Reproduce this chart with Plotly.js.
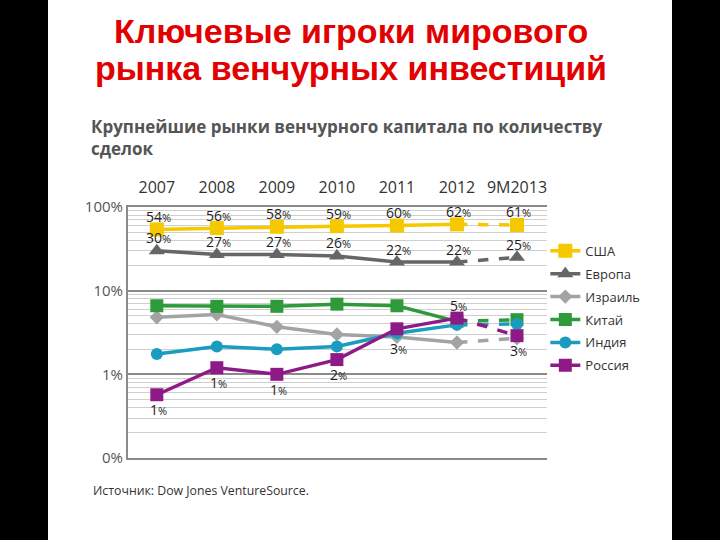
<!DOCTYPE html>
<html>
<head>
<meta charset="utf-8">
<script src="https://cdn.plot.ly/plotly-3.0.1.min.js"></script>
<style>
  html, body { margin: 0; padding: 0; background: #000; width: 720px; height: 540px; overflow: hidden; }
  #chart { position: absolute; left: 48px; top: 0; width: 624px; height: 540px; background: #fff; }
</style>
</head>
<body>
<div id="chart"></div>
<script>
// ---- data ----
const years = ['2007', '2008', '2009', '2010', '2011', '2012', '9M2013'];
const seriesNames = ['США', 'Европа', 'Израиль', 'Китай', 'Индия', 'Россия'];
const usa    = [54, 56, 58, 59, 60, 62, 61];
const europe = [30, 27, 27, 26, 22, 22, 25];
const israel = [4.8, 5.2, 3.7, 3.0, 2.8, 2.4, 2.7];
const china  = [6.6, 6.5, 6.5, 6.9, 6.6, 4.3, 4.5];
const india  = [1.75, 2.15, 2.0, 2.15, 3.1, 3.9, 4.0];
const russia = [0.57, 1.2, 1.0, 1.5, 3.5, 4.7, 2.9];
const usaLabels    = ['54', '56', '58', '59', '60', '62', '61'];
const europeLabels = ['30', '27', '27', '26', '22', '22', '25'];
const russiaLabels = ['1', '1', '1', '2', '3', '5', '3'];
const yTickVals = [0.1, 1, 10, 100];
const yTickText = ['0%', '1%', '10%', '100%'];
const titleLines = ['Ключевые игроки мирового', 'рынка венчурных инвестиций'];

// ---- styles ----
const styles = [
  {color: '#F5C800', symbol: 'square', size: 14},
  {color: '#666666', symbol: 'triangle-up', size: 14},
  {color: '#A3A3A3', symbol: 'diamond', size: 11},
  {color: '#2E9A3A', symbol: 'square', size: 13},
  {color: '#1A9CC0', symbol: 'circle', size: 12},
  {color: '#8E1A88', symbol: 'square', size: 13}
];
const allSeries = [usa, europe, israel, china, india, russia];

const traces = [];
allSeries.forEach((vals, i) => {
  const st = styles[i];
  traces.push({
    type: 'scatter', mode: 'lines+markers', name: seriesNames[i],
    legendgroup: seriesNames[i],
    x: years.slice(0, 6), y: vals.slice(0, 6),
    line: {color: st.color, width: 3.5},
    marker: {color: st.color, symbol: st.symbol, size: st.size},
    hoverinfo: 'skip'
  });
  traces.push({
    type: 'scatter', mode: 'lines', name: seriesNames[i],
    legendgroup: seriesNames[i], showlegend: false,
    x: years.slice(5, 7), y: vals.slice(5, 7),
    line: {color: st.color, width: 3.5, dash: 'dash'},
    hoverinfo: 'skip'
  });
  traces.push({
    type: 'scatter', mode: 'markers', name: seriesNames[i],
    legendgroup: seriesNames[i], showlegend: false,
    x: years.slice(6, 7), y: vals.slice(6, 7),
    marker: {color: st.color, symbol: st.symbol, size: st.size},
    hoverinfo: 'skip'
  });
});

function lab(t) {
  return t + "<span style='font-size:11px'>%</span>";
}
const annotations = [];
const labFont = {family: 'Open Sans, DejaVu Sans, sans-serif', size: 14, color: '#1e1e1e'};
years.forEach((yr, k) => {
  annotations.push({x: k, y: Math.log10(usa[k]), xref: 'x', yref: 'y', text: lab(usaLabels[k]),
    showarrow: false, yshift: 13, xshift: 2, font: labFont});
  annotations.push({x: k, y: Math.log10(europe[k]), xref: 'x', yref: 'y', text: lab(europeLabels[k]),
    showarrow: false, yshift: 13, xshift: 2, font: labFont});
  const above = (k === 5);
  annotations.push({x: k, y: Math.log10(russia[k]), xref: 'x', yref: 'y', text: lab(russiaLabels[k]),
    showarrow: false, yshift: above ? 13 : (k === 4 ? -20 : -15), xshift: 2, font: labFont});
});

// main title (two lines)
const titleFont = {family: 'Liberation Sans, Arial, sans-serif', size: 34, color: '#E30000'};
annotations.push({xref: 'paper', yref: 'paper', x: 0.532, y: 1.701, xanchor: 'center', yanchor: 'middle',
  text: '<b>' + titleLines[0] + '</b>', showarrow: false, font: titleFont});
annotations.push({xref: 'paper', yref: 'paper', x: 0.532, y: 1.554, xanchor: 'center', yanchor: 'middle',
  text: '<b>' + titleLines[1] + '</b>', showarrow: false, font: titleFont});

// subtitle
annotations.push({
  xref: 'paper', yref: 'paper', x: -0.093, y: 1.373, xanchor: 'left', yanchor: 'top', align: 'left',
  text: '<b>Крупнейшие рынки венчурного капитала по количеству<br>сделок</b>',
  showarrow: false,
  font: {family: 'Open Sans, Noto Sans, sans-serif', size: 17, color: '#555'}
});
// source
annotations.push({
  xref: 'paper', yref: 'paper', x: -0.089, y: -0.131, xanchor: 'left', yanchor: 'middle', align: 'left',
  text: 'Источник: Dow Jones VentureSource.',
  showarrow: false,
  font: {family: 'Open Sans, Noto Sans, sans-serif', size: 12.3, color: '#333'}
});

const layout = {
  width: 624, height: 540,
  paper_bgcolor: '#fff', plot_bgcolor: '#fff',
  margin: {l: 80, r: 125, t: 207, b: 82},
  xaxis: {
    type: 'category', side: 'top', range: [-0.48, 6.5],
    showgrid: false, zeroline: false,
    showline: true, mirror: true, linecolor: '#8a8a8a', linewidth: 2,
    ticks: '', ticklabelstandoff: 6,
    tickfont: {family: 'Open Sans, DejaVu Sans, sans-serif', size: 16, color: '#333'}
  },
  yaxis: {
    type: 'log', range: [-1, 2],
    tickmode: 'array', tickvals: yTickVals, ticktext: yTickText,
    showgrid: true, gridcolor: '#8a8a8a', gridwidth: 2,
    zeroline: false, showline: true, linecolor: '#8a8a8a', linewidth: 2,
    ticks: '', ticklabelstandoff: 0,
    tickfont: {family: 'Open Sans, DejaVu Sans, sans-serif', size: 15, color: '#555'},
    minor: {dtick: 'D1', showgrid: true, gridcolor: '#cfcfcf', gridwidth: 1, ticks: ''}
  },
  legend: {
    x: 0.996, xanchor: 'left', y: 0.885, yanchor: 'top',
    font: {family: 'Open Sans, DejaVu Sans, sans-serif', size: 13, color: '#333'},
    tracegroupgap: 3, bgcolor: 'rgba(0,0,0,0)', itemwidth: 30
  },
  showlegend: true,
  annotations: annotations
};

Plotly.newPlot('chart', traces, layout, {displayModeBar: false, staticPlot: true});
</script>
</body>
</html>
